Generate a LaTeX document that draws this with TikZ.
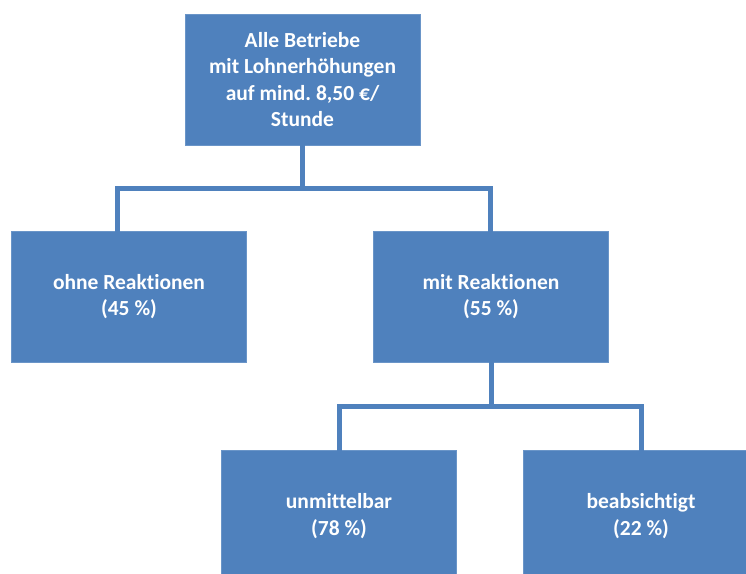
\documentclass[tikz,border=0pt]{standalone}
\usepackage{fontspec}
\setmainfont[Ligatures={NoCommon}]{Carlito}
\frenchspacing
\definecolor{boxblue}{HTML}{4F81BD}
\definecolor{edgeblue}{HTML}{6A95C8}
\tikzset{
  orgbox/.style={draw=edgeblue, line width=0.8pt, fill=boxblue, text=white,
    minimum width=235pt, minimum height=131pt, inner sep=0pt,
    align=center, font=\fontsize{21.5pt}{26.5pt}\selectfont\bfseries},
  conn/.style={draw=boxblue, line width=5pt, line join=miter, line cap=rect}
}
\begin{document}
\begin{tikzpicture}[x=1pt,y=-1pt]
\useasboundingbox (0,0) rectangle (746,573);
\clip (0,0) rectangle (746,573);
\fill[white] (0,0) rectangle (746,573);
\coordinate (h1) at (117,188);
\coordinate (h2) at (490,188);
\coordinate (g1) at (339,406);
\coordinate (g2) at (641,406);
\node[orgbox] (top) at (302.5,79.5) {Alle Betriebe\\mit Lohnerhöhungen\\auf mind. 8,50 €/\\Stunde};
\node[orgbox] (left) at (129,296.5) {ohne Reaktionen\\(45 \%)};
\node[orgbox] (mid) at (491,296.5) {mit Reaktionen\\(55 \%)};
\node[orgbox] (bl) at (339,516) {unmittelbar\\(78 \%)};
\node[orgbox] (br) at (641,516) {beabsichtigt\\(22 \%)};
\draw[conn] (top.south) -- (top.south |- h1);
\draw[conn] (h1 |- left.north) -- (h1) -- (h2) -- (h2 |- mid.north);
\draw[conn] (mid.south) -- (mid.south |- g1);
\draw[conn] (g1 |- bl.north) -- (g1) -- (g2) -- (g2 |- br.north);
\end{tikzpicture}
\end{document}
